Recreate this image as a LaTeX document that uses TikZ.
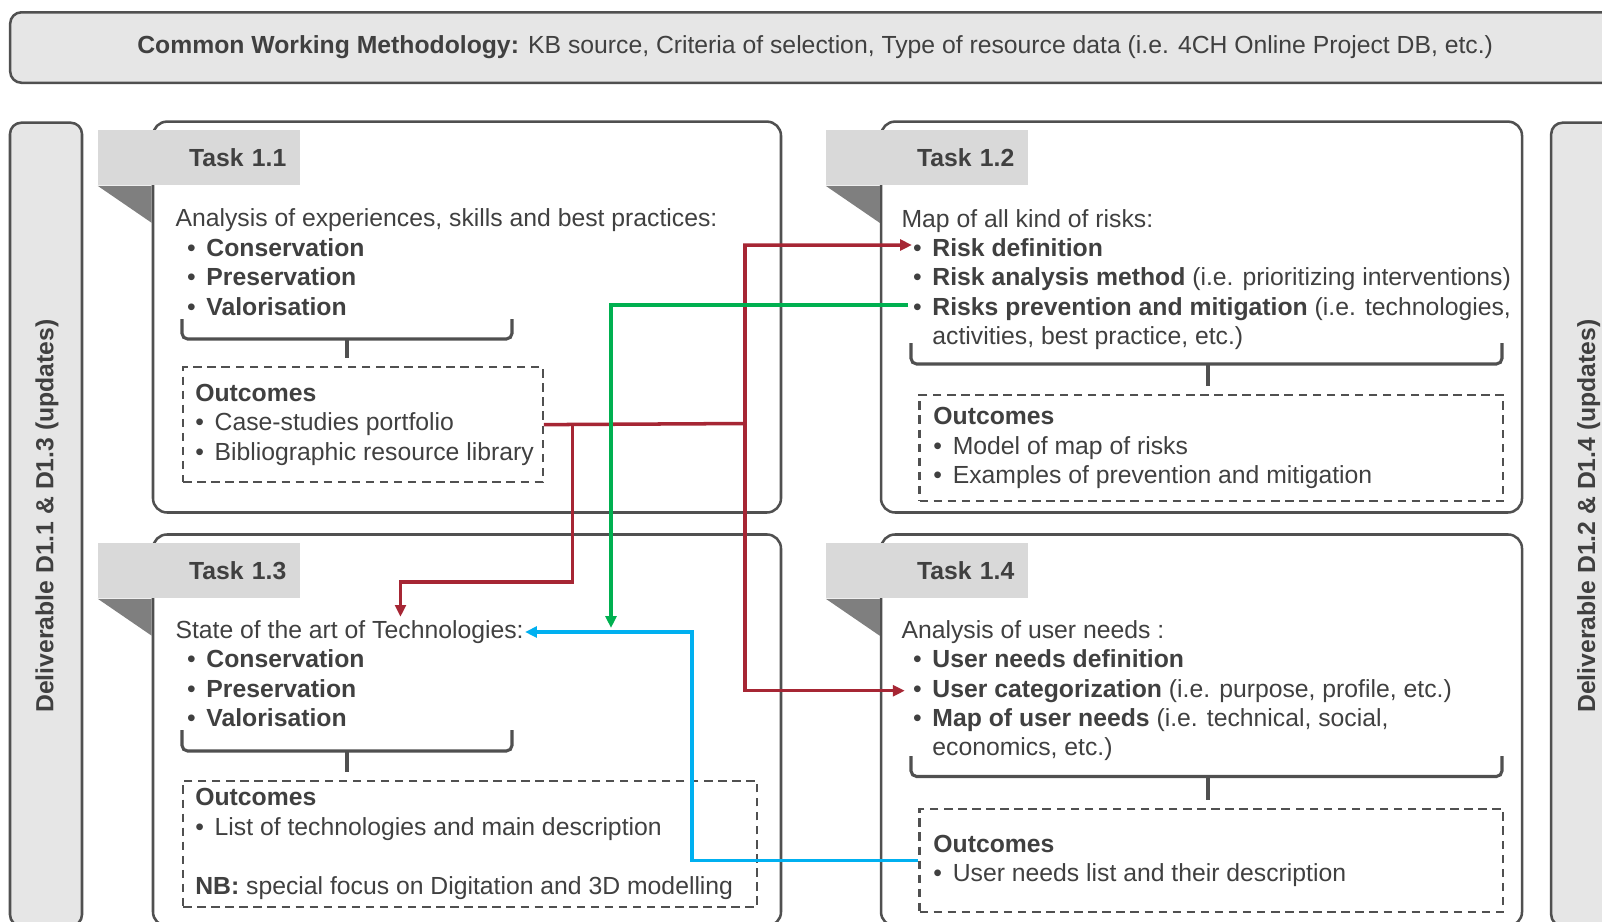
\documentclass[tikz,border=0pt]{standalone}
\usepackage{fontspec}
\setmainfont{Liberation Sans}
\usepackage{tikz}
\usetikzlibrary{arrows.meta,positioning,calc}
\usepackage{xcolor}
\definecolor{BoxGray}{RGB}{230,230,230}
\definecolor{TabGray}{RGB}{217,217,217}
\definecolor{FoldGray}{RGB}{127,127,127}
\definecolor{LineGray}{RGB}{80,80,80}
\definecolor{TextGray}{RGB}{64,64,64}
\definecolor{LinkRed}{RGB}{166,38,52}
\definecolor{LinkGreen}{RGB}{0,176,80}
\definecolor{LinkBlue}{RGB}{0,176,240}
\newcommand{\diagfont}{\fontsize{8.8pt}{10.45pt}\selectfont}
\newcommand{\bulsym}{\textbullet\hspace{3.8pt}}
\newcommand{\itembul}{\hspace*{4.1pt}\bulsym}
\newcommand{\contline}{\hspace*{4.1pt}\phantom{\bulsym}}

\begin{document}
\begin{tikzpicture}[
  every node/.style={text=TextGray,font=\diagfont},
  greybox/.style={draw=LineGray,fill=BoxGray,line width=0.9pt,rounded corners=4pt},
  taskbox/.style={draw=LineGray,fill=white,line width=0.9pt,rounded corners=5pt},
  tasktab/.style={fill=TabGray,anchor=north west,minimum height=0.6875cm,
                  text width=2.175cm,align=right,inner xsep=0.175cm,font=\diagfont\bfseries},
  bodytext/.style={anchor=base west,align=left,inner sep=0pt},
  outbox/.style={draw=LineGray,line width=0.8pt,dash pattern=on 3pt off 2pt,anchor=north west},
  outtext/.style={anchor=west,align=left,inner sep=0pt},
  bracket/.style={draw=LineGray,line width=1.1pt,rounded corners=2pt},
  linkarrow/.style={line width=1.25pt,-{Triangle[length=4.2pt,width=3.8pt]}},
]
\useasboundingbox (0,0) rectangle (20.025,-11.5125);
\clip (0,0) rectangle (20.025,-11.5125);

% header and deliverables
\node[greybox,minimum width=20.125cm,minimum height=0.881cm] (method) at (10.19,-0.594)
  {\textbf{Common Working Methodology:} KB source, Criteria of selection, Type of resource data (i.e. 4CH Online Project DB, etc.)};
\node[greybox,minimum width=0.9cm,minimum height=10.04cm] (del13) at (0.575,-6.554) {};
\node[rotate=90,font=\diagfont\bfseries] (del13txt) at (0.5875,-6.45) {Deliverable D1.1 \& D1.3 (updates)};
\node[greybox,minimum width=0.9cm,minimum height=10.04cm] (del24) at (19.84,-6.554) {};
\node[rotate=90,font=\diagfont\bfseries] (del24txt) at (19.86,-6.45) {Deliverable D1.2 \& D1.4 (updates)};

% task boxes
\node[taskbox,minimum width=7.85cm,minimum height=4.886cm] (t11) at (5.8375,-3.963) {};
\node[taskbox,minimum width=8.0125cm,minimum height=4.886cm] (t12) at (15.019,-3.963) {};
\node[taskbox,minimum width=7.85cm,minimum height=4.894cm] (t13) at (5.8375,-9.128) {};
\node[taskbox,minimum width=8.0125cm,minimum height=4.894cm] (t14) at (15.019,-9.128) {};

\foreach \t/\n in {t11/1.1,t12/1.2,t13/1.3,t14/1.4}{
  \node[tasktab] (tab-\t) at ([shift={(-0.675,-0.1175)}]\t.north west) {Task \n};
  \fill[FoldGray] (tab-\t.south west) -- (\t.west |- tab-\t.south)
    -- ([yshift=-0.4625cm]\t.west |- tab-\t.south) -- cycle;
}

% task contents (base = last line)
\node[bodytext] (txt11) at (2.1875,-3.939) {Analysis of experiences, skills and best practices:\\
  \itembul\textbf{Conservation}\\ \itembul\textbf{Preservation}\\ \itembul\textbf{Valorisation}};
\node[bodytext] (txt12) at (11.2625,-4.307) {Map of all kind of risks:\\
  \itembul\textbf{Risk definition}\\
  \itembul\textbf{Risk analysis method} (i.e. prioritizing interventions)\\
  \itembul\textbf{Risks prevention and mitigation} (i.e. technologies,\\
  \contline activities, best practice, etc.)};
\node[bodytext] (txt13) at (2.1875,-9.081) {State of the art of Technologies:\\
  \itembul\textbf{Conservation}\\ \itembul\textbf{Preservation}\\ \itembul\textbf{Valorisation}};
\node[bodytext] (txt14) at (11.2625,-9.449) {Analysis of user needs :\\
  \itembul\textbf{User needs definition}\\
  \itembul\textbf{User categorization} (i.e. purpose, profile, etc.)\\
  \itembul\textbf{Map of user needs} (i.e. technical, social,\\
  \contline economics, etc.)};

% brackets
\foreach \xa/\xm/\xb/\ya/\ym/\yb in {2.275/4.3375/6.4/-3.9875/-4.2375/-4.475,
    11.3875/15.1/18.775/-4.2875/-4.55/-4.825,
    2.275/4.3375/6.4/-9.125/-9.3875/-9.65,
    11.3875/15.1/18.775/-9.45/-9.706/-10.0}{
  \draw[bracket] (\xa,\ya) -- (\xa,\ym) -- (\xb,\ym) -- (\xb,\ya);
  \draw[bracket] (\xm,\ym) -- (\xm,\yb);
}

% outcomes
\node[outbox,minimum width=4.494cm,minimum height=1.4375cm] (out11) at (2.275,-4.575) {};
\node[outtext] (out11txt) at ([xshift=0.16cm]out11.west) {\textbf{Outcomes}\\
  \bulsym Case-studies portfolio\\ \bulsym Bibliographic resource library};
\node[outbox,minimum width=7.294cm,minimum height=1.325cm] (out12) at (11.481,-4.925) {};
\node[outtext] (out12txt) at ([xshift=0.18cm]out12.west) {\textbf{Outcomes}\\
  \bulsym Model of map of risks\\ \bulsym Examples of prevention and mitigation};
\node[outbox,minimum width=7.175cm,minimum height=1.581cm] (out13) at (2.275,-9.744) {};
\node[outtext] (out13txt) at ([xshift=0.16cm]out13.west) {\textbf{Outcomes}\\
  \bulsym List of technologies and main description\\[10.45pt]
  \textbf{NB:} special focus on Digitation and 3D modelling};
\node[outbox,minimum width=7.294cm,minimum height=1.2875cm] (out14) at (11.481,-10.1) {};
\node[outtext] (out14txt) at ([xshift=0.18cm]out14.west) {\textbf{Outcomes}\\
  \bulsym User needs list and their description};

% links
\coordinate (rdef) at (11.4,-3.0625);
\coordinate (ucat) at (11.31,-8.634);
\coordinate (sota) at (5.006,-7.71);
\coordinate (rprev) at (11.35,-3.8125);
\coordinate (gtip) at (7.6375,-7.85);
\coordinate (tech) at (6.5625,-7.9);
\coordinate (rj) at (9.3125,-5.294);
\coordinate (rk) at (7.155,-5.294);
\draw[linkarrow,LinkRed] (out11.east) -- (rj) |- (rdef);
\draw[linkarrow,LinkRed] (rj) |- (ucat);
\draw[linkarrow,LinkRed] (rk) |- (5.006,-7.275) -- (sota);
\draw[linkarrow,LinkGreen] (rprev) -| (gtip);
\draw[linkarrow,LinkBlue] (out14.west) -| (8.65,-7.9) -- (tech);
\end{tikzpicture}
\end{document}
